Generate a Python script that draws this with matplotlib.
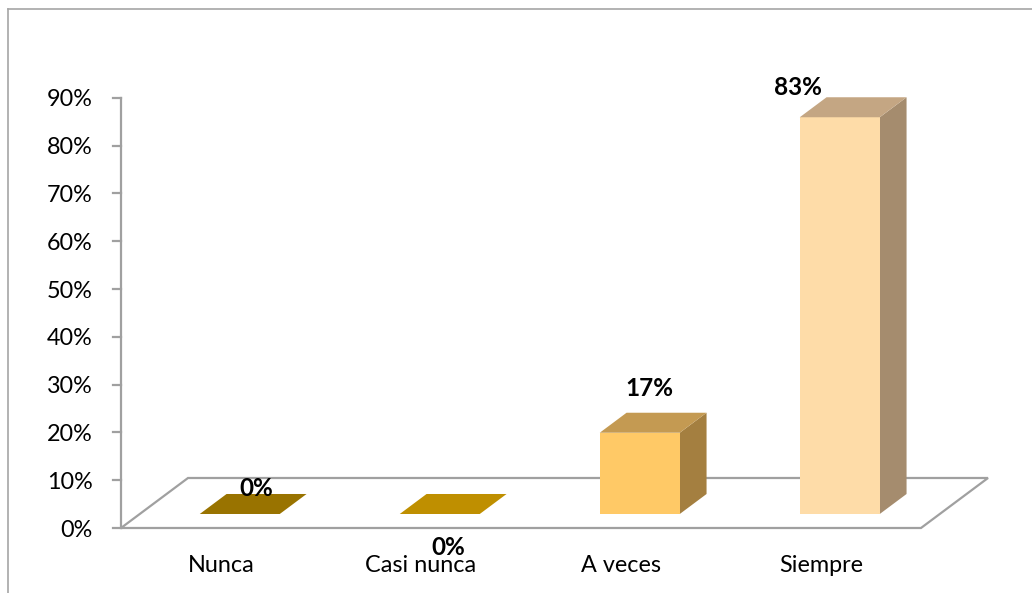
import numpy as np
import matplotlib.pyplot as plt
from matplotlib.patches import Polygon
from matplotlib.lines import Line2D

plt.rcParams['font.family'] = ['Lato', 'DejaVu Sans']

# datos de la encuesta
categorias = ['Nunca', 'Casi nunca', 'A veces', 'Siempre']
porcentajes = [0, 0, 17, 83]
ticks_y = [0, 10, 20, 30, 40, 50, 60, 70, 80, 90]
etiquetas_y = [f'{t}%' for t in ticks_y]

# colores de cada barra: cara frontal, techo y lateral
col_frente = ['#997300', '#BF8F00', '#FFC966', '#FEDCA8']
col_techo = ['#997300', '#BF8F00', '#C49A52', '#C4A683']
col_lado = ['#8A6800', '#A67C00', '#A47F40', '#A58C6E']

# donde va cada etiqueta respecto al centro superior de la cara frontal
desp_etiq = [(0.08, 3.8), (0.04, -8.6), (0.05, 7.7), (-0.21, 4.7)]

# perspectiva: vector de profundidad del piso (en unidades de datos)
PX, PY = 0.335, 10.46
f0, f1 = 0.28, 0.68      # fraccion de profundidad ocupada por las barras
media = 0.2              # medio ancho de barra
gris = '#A0A0A0'

fig = plt.figure(figsize=(10.32, 5.93), dpi=100)
ax = fig.add_axes([0, 0, 1, 1])
ax.set_xlim(-0.605, 4.555)
ax.set_ylim(-13.6, 110.46)
ax.axis('off')

n = len(categorias)

# piso
piso = Polygon([(0, 0), (n, 0), (n + PX, PY), (PX, PY)], closed=True,
               facecolor='white', edgecolor=gris, lw=1.6, zorder=1)
ax.add_patch(piso)

# eje y con sus marcas
ax.plot([0, 0], [0, ticks_y[-1]], color=gris, lw=1.6, zorder=2)
for t, lab in zip(ticks_y, etiquetas_y):
    ax.plot([-0.04, 0], [t, t], color=gris, lw=1.6, zorder=2)
    ax.text(-0.14, t - 1.78, lab, ha='right', va='baseline', fontsize=16.8)

# barras en 3d (frente, lado, techo)
for i, v in enumerate(porcentajes):
    cx = i + 0.5 + f0 * PX
    y0 = f0 * PY
    x0, x1 = cx - media, cx + media
    ddx, ddy = (f1 - f0) * PX, (f1 - f0) * PY
    frente = [(x0, y0), (x1, y0), (x1, y0 + v), (x0, y0 + v)]
    lado = [(x1, y0), (x1 + ddx, y0 + ddy), (x1 + ddx, y0 + v + ddy), (x1, y0 + v)]
    techo = [(x0, y0 + v), (x1, y0 + v), (x1 + ddx, y0 + v + ddy), (x0 + ddx, y0 + v + ddy)]
    if v > 0:
        ax.add_patch(Polygon(lado, closed=True, facecolor=col_lado[i], edgecolor='none', zorder=3))
        ax.add_patch(Polygon(frente, closed=True, facecolor=col_frente[i], edgecolor='none', zorder=3))
    ax.add_patch(Polygon(techo, closed=True, facecolor=col_techo[i], edgecolor='none', zorder=3))

    dx, dy = desp_etiq[i]
    ax.text(cx + dx, y0 + v + dy, f'{v}%', ha='center', va='baseline',
            fontsize=17.5, fontweight='bold', zorder=5)

    ax.text(i + 0.5, -9.2, categorias[i], ha='center', va='baseline', fontsize=16.8)

# marco del area del grafico
fig.add_artist(Line2D([8 / 1032, 8 / 1032], [0, 1 - 9 / 593], color='#A6A6A6',
                      lw=1.2, transform=fig.transFigure))
fig.add_artist(Line2D([8 / 1032, 1], [1 - 9 / 593, 1 - 9 / 593], color='#A6A6A6',
                      lw=1.2, transform=fig.transFigure))

fig.savefig('out.png', dpi=100, facecolor='white')
